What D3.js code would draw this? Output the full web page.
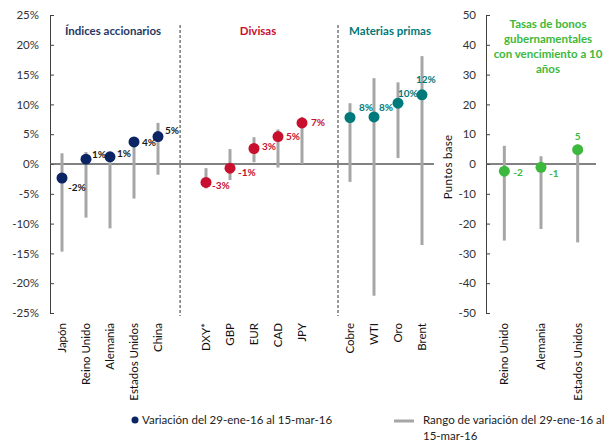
<!DOCTYPE html>
<html>
<head>
<meta charset="utf-8">
<script src="https://cdn.jsdelivr.net/npm/d3@7"></script>
<style>
  html, body { margin: 0; padding: 0; background: #fff; }
  svg { display: block; font-family: Lato, "Open Sans", sans-serif; }
</style>
</head>
<body>
<svg id="chart" width="610" height="441"></svg>
<script>
// ---- Data -------------------------------------------------------------
// Variation 29-ene-16 to 15-mar-16 (%), and the range reached over the period
const equityNames   = ["Japón", "Reino Unido", "Alemania", "Estados Unidos", "China"];
const equityValues  = [-2.35, 0.8, 1.2, 3.7, 4.6];
const equityLow     = [-14.7, -9.0, -10.8, -5.8, -1.8];
const equityHigh    = [1.8, 2.0, 2.0, 4.5, 6.9];

const fxNames       = ["DXY*", "GBP", "EUR", "CAD", "JPY"];
const fxValues      = [-3.1, -0.7, 2.6, 4.6, 6.9];
const fxLow         = [-4.1, -2.7, 0.3, -0.6, 0.0];
const fxHigh        = [-0.7, 2.5, 4.5, 5.8, 7.9];

const commNames     = ["Cobre", "WTI", "Oro", "Brent"];
const commValues    = [7.8, 7.9, 10.2, 11.6];
const commLow       = [-3.0, -22.1, 1.0, -13.6];
const commHigh      = [10.2, 14.4, 13.7, 18.1];

// 10-year government bond yields, basis points
const bondNames     = ["Reino Unido", "Alemania", "Estados Unidos"];
const bondValues    = [-2.4, -1.1, 4.8];
const bondLow       = [-25.7, -21.8, -26.3];
const bondHigh      = [6.1, 2.6, 6.5];

const pctTicks      = [-25, -20, -15, -10, -5, 0, 5, 10, 15, 20, 25];
const bpTicks       = [-50, -40, -30, -20, -10, 0, 10, 20, 30, 40, 50];

const groupTitles   = ["Índices accionarios", "Divisas", "Materias primas"];
const bondTitle     = ["Tasas de bonos", "gubernamentales", "con vencimiento a 10", "años"];
const legendLabels  = ["Variación del 29-ene-16 al 15-mar-16",
                       "Rango de variación del 29-ene-16 al", "15-mar-16"];

// ---- Styles / placement ---------------------------------------------
const colors = { equity: "#0b2463", fx: "#c8102e", comm: "#00797a", bond: "#3cb83c",
                 equityTitle: "#1f3864", equityLabel: "#1a1a1a" };
const rangeColor = "#a6a6a6";
// value-label offsets [dx, dy] from the dot centre, one per point
const equityLabelPos = [[6, 9], [6, -5], [7, -3], [8, 1], [7, -6]];
const fxLabelPos     = [[6, 3], [8, 4], [8, -2], [8, 0], [9, 0]];
const commLabelPos   = [[9, -10], [5, -9], [0, -10], [-6, -15]];
const bondLabelPos   = [[9, 1], [8, 6], [-3, -13]];

// whole-number label with an ASCII hyphen for negatives
const fmtInt = v => String(Math.round(v));

const svg = d3.select("#chart");

// ---- Left panel: percent changes --------------------------------------
const slots = [...equityNames, "_g1", ...fxNames, "_g2", ...commNames];
const x = d3.scaleBand().domain(slots).range([50, 434]).padding(0);
const y = d3.scaleLinear().domain([-25, 25]).range([313, 15]);
const cx = n => x(n) + x.bandwidth() / 2;

const leftAxis = d3.axisLeft(y).tickValues(pctTicks).tickSize(0).tickPadding(11)
  .tickFormat(d => fmtInt(d) + "%");
const gyl = svg.append("g").attr("transform", "translate(50,0)").call(leftAxis);
gyl.select(".domain").attr("stroke", "#404040");
gyl.selectAll(".tick text").attr("font-size", 11.5).attr("fill", "#333")
  .attr("font-family", "Lato, sans-serif");
gyl.selectAll(".tick").append("line").attr("x1", 0).attr("x2", 4)
  .attr("stroke", "#404040");

// dashed separators between groups
const sepX = [x("_g1") + x.bandwidth() * 0.42, x("_g2") + x.bandwidth()];
svg.selectAll(".sep").data(sepX).join("line").attr("class", "sep")
  .attr("x1", d => d).attr("x2", d => d).attr("y1", 25).attr("y2", 316)
  .attr("stroke", "#333").attr("stroke-dasharray", "3,2").attr("stroke-width", 1);

// zero line
svg.append("line").attr("x1", 50).attr("x2", 434).attr("y1", y(0)).attr("y2", y(0))
  .attr("stroke", "#595959").attr("stroke-width", 1.5);

function drawGroup(names, values, low, high, color, labelColor, labelPos) {
  const rows = names.map((n, i) => ({ n, v: values[i], lo: low[i], hi: high[i], p: labelPos[i] }));
  const g = svg.append("g");
  g.selectAll("line.rng").data(rows).join("line").attr("class", "rng")
    .attr("x1", d => cx(d.n)).attr("x2", d => cx(d.n))
    .attr("y1", d => y(d.lo)).attr("y2", d => y(d.hi))
    .attr("stroke", rangeColor).attr("stroke-width", 3);
  g.selectAll("circle").data(rows).join("circle")
    .attr("cx", d => cx(d.n)).attr("cy", d => y(d.v)).attr("r", 5.5).attr("fill", color);
  g.selectAll("text").data(rows).join("text")
    .attr("x", d => cx(d.n) + d.p[0]).attr("y", d => y(d.v) + d.p[1])
    .attr("dy", "0.35em").attr("font-size", 10).attr("font-weight", "bold")
    .attr("fill", labelColor).text(d => fmtInt(d.v) + "%");
}
drawGroup(equityNames, equityValues, equityLow, equityHigh, colors.equity, colors.equityLabel, equityLabelPos);
drawGroup(fxNames, fxValues, fxLow, fxHigh, colors.fx, colors.fx, fxLabelPos);
drawGroup(commNames, commValues, commLow, commHigh, colors.comm, colors.comm, commLabelPos);

// category labels
const catNames = [...equityNames, ...fxNames, ...commNames];
svg.selectAll(".cat").data(catNames).join("text").attr("class", "cat")
  .attr("transform", d => `translate(${cx(d)},323) rotate(-90)`)
  .attr("text-anchor", "end").attr("dy", "0.35em").attr("font-size", 11.5)
  .attr("fill", "#111").text(d => d);

// group titles
const titleX = [(x(equityNames[0]) + x(equityNames[4]) + x.bandwidth()) / 2 + 3,
                (cx(fxNames[0]) + cx(fxNames[4])) / 2 + 4,
                (cx(commNames[0]) + cx(commNames[3])) / 2 + 4];
const titleColors = [colors.equityTitle, colors.fx, colors.comm];
svg.selectAll(".gt").data(groupTitles).join("text").attr("class", "gt")
  .attr("x", (d, i) => titleX[i]).attr("y", 31).attr("dy", "0.35em")
  .attr("text-anchor", "middle").attr("font-size", 11.5).attr("font-weight", "bold")
  .attr("fill", (d, i) => titleColors[i]).text(d => d);

// ---- Right panel: bond yields in basis points -------------------------
const xb = d3.scaleBand().domain(bondNames).range([486, 596]).padding(0);
const yb = d3.scaleLinear().domain([-50, 50]).range([313, 15]);
const cxb = n => xb(n) + xb.bandwidth() / 2;

const rightAxis = d3.axisLeft(yb).tickValues(bpTicks).tickSize(0).tickPadding(10)
  .tickFormat(fmtInt);
const gyr = svg.append("g").attr("transform", "translate(486,0)").call(rightAxis);
gyr.select(".domain").attr("stroke", "#404040");
gyr.selectAll(".tick text").attr("font-size", 11.5).attr("fill", "#333")
  .attr("font-family", "Lato, sans-serif");
gyr.selectAll(".tick").append("line").attr("x1", 0).attr("x2", 4).attr("stroke", "#404040");

svg.append("text").attr("transform", "translate(448,167) rotate(-90)")
  .attr("text-anchor", "middle").attr("dy", "0.35em").attr("font-size", 11.5)
  .attr("fill", "#111").attr("letter-spacing", "0.3px").text("Puntos base");

svg.append("line").attr("x1", 486).attr("x2", 596).attr("y1", yb(0)).attr("y2", yb(0))
  .attr("stroke", "#595959").attr("stroke-width", 1.5);

const bondRows = bondNames.map((n, i) => ({ n, v: bondValues[i], lo: bondLow[i], hi: bondHigh[i], p: bondLabelPos[i] }));
svg.selectAll(".brng").data(bondRows).join("line").attr("class", "brng")
  .attr("x1", d => cxb(d.n)).attr("x2", d => cxb(d.n))
  .attr("y1", d => yb(d.lo)).attr("y2", d => yb(d.hi))
  .attr("stroke", rangeColor).attr("stroke-width", 3);
svg.selectAll(".bdot").data(bondRows).join("circle").attr("class", "bdot")
  .attr("cx", d => cxb(d.n)).attr("cy", d => yb(d.v)).attr("r", 5.5).attr("fill", colors.bond);
svg.selectAll(".blab").data(bondRows).join("text").attr("class", "blab")
  .attr("x", d => cxb(d.n) + d.p[0]).attr("y", d => yb(d.v) + d.p[1]).attr("dy", "0.35em")
  .attr("font-size", 10).attr("font-weight", "bold").attr("fill", colors.bond)
  .text(d => fmtInt(d.v));

svg.selectAll(".bcat").data(bondNames).join("text").attr("class", "bcat")
  .attr("transform", d => `translate(${cxb(d)},323) rotate(-90)`)
  .attr("text-anchor", "end").attr("dy", "0.35em").attr("font-size", 11.5)
  .attr("fill", "#111").text(d => d);

svg.selectAll(".btitle").data(bondTitle).join("text").attr("class", "btitle")
  .attr("x", 548).attr("y", (d, i) => 24 + i * 15).attr("dy", "0.35em")
  .attr("text-anchor", "middle").attr("font-size", 11.5).attr("font-weight", "bold")
  .attr("fill", colors.bond).text(d => d);

// ---- Legend -----------------------------------------------------------
const lg = svg.append("g").attr("font-size", 11.5).attr("fill", "#222");
lg.append("circle").attr("cx", 135).attr("cy", 420).attr("r", 3.5).attr("fill", colors.equity);
lg.append("text").attr("x", 142).attr("y", 420).attr("dy", "0.35em").text(legendLabels[0]);
lg.append("line").attr("x1", 394).attr("x2", 414).attr("y1", 421).attr("y2", 421)
  .attr("stroke", rangeColor).attr("stroke-width", 3);
lg.append("text").attr("x", 423).attr("y", 420).attr("dy", "0.35em").text(legendLabels[1]);
lg.append("text").attr("x", 423).attr("y", 436).attr("dy", "0.35em").text(legendLabels[2]);
</script>
</body>
</html>
